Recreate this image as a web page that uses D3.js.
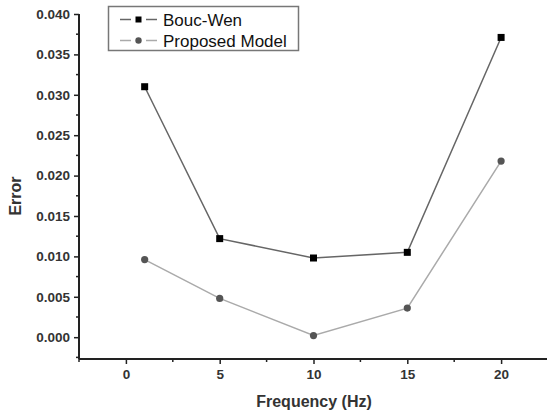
<!DOCTYPE html>
<html>
<head>
<meta charset="utf-8">
<script src="https://cdn.jsdelivr.net/npm/d3@7"></script>
<style>
  body { margin: 0; background: #fff; }
  text { font-family: "Liberation Sans", Arial, sans-serif; }
</style>
</head>
<body>
<div id="chart"></div>
<script>
// data
var freq = [1, 5, 10, 15, 20];
var boucWen = [0.0310, 0.0122, 0.0098, 0.0105, 0.0371];
var proposed = [0.0096, 0.0048, 0.0002, 0.0036, 0.0218];
var xTicks = [0, 5, 10, 15, 20];
var yTicks = [0.000, 0.005, 0.010, 0.015, 0.020, 0.025, 0.030, 0.035, 0.040];
var seriesNames = ["Bouc-Wen", "Proposed Model"];

var width = 547, height = 414;
// plot edges (window.top is reserved, so use other names)
var plotLeft = 79, plotRight = 548, plotTop = 14, plotBottom = 359;

var svg = d3.select("#chart").append("svg")
    .attr("width", width)
    .attr("height", height);

var x = d3.scaleLinear().domain([-2.5, 22.5]).range([plotLeft, plotRight]);
var y = d3.scaleLinear().domain([-0.0027, 0.040]).range([plotBottom, plotTop]);

// minor ticks
var xMinor = d3.range(-2.5, 22.6, 2.5).filter(function(d) { return xTicks.indexOf(d) < 0; });
var yMinor = d3.range(-0.0025, 0.0401, 0.0025).filter(function(d) {
    return !yTicks.some(function(t) { return Math.abs(t - d) < 1e-6; });
});

var axisColor = "#222";

// y axis
var yAxis = svg.append("g")
    .attr("transform", "translate(" + plotLeft + ",0)")
    .call(d3.axisLeft(y).tickValues(yTicks).tickFormat(d3.format(".3f")).tickSize(5).tickPadding(4));
yAxis.select(".domain").attr("d", "M0," + y(0.040) + "V" + plotBottom).attr("stroke", axisColor).attr("stroke-width", 2);
yAxis.selectAll(".tick line").attr("stroke", axisColor).attr("stroke-width", 1.5);
yAxis.selectAll(".tick text")
    .style("font-size", "13.5px").style("font-weight", "bold").attr("fill", "#333");
yAxis.selectAll(".minor").data(yMinor).enter().append("line")
    .attr("class", "minor")
    .attr("x1", -3).attr("x2", 0)
    .attr("y1", function(d) { return y(d); }).attr("y2", function(d) { return y(d); })
    .attr("stroke", axisColor).attr("stroke-width", 1.5);

// x axis
var xAxis = svg.append("g")
    .attr("transform", "translate(0," + plotBottom + ")")
    .call(d3.axisBottom(x).tickValues(xTicks).tickSize(5).tickPadding(5));
xAxis.select(".domain").attr("d", "M" + plotLeft + ",0H" + plotRight).attr("stroke", axisColor).attr("stroke-width", 2);
xAxis.selectAll(".tick line").attr("stroke", axisColor).attr("stroke-width", 1.5);
xAxis.selectAll(".tick text")
    .style("font-size", "13.5px").style("font-weight", "bold").attr("fill", "#333");
xAxis.selectAll(".minor").data(xMinor).enter().append("line")
    .attr("class", "minor")
    .attr("y1", 0).attr("y2", 3)
    .attr("x1", function(d) { return x(d); }).attr("x2", function(d) { return x(d); })
    .attr("stroke", axisColor).attr("stroke-width", 1.5);

// axis titles
svg.append("text")
    .attr("x", 314)
    .attr("y", 407)
    .attr("text-anchor", "middle")
    .style("font-size", "16px").style("font-weight", "bold").attr("fill", "#333")
    .text("Frequency (Hz)");

svg.append("text")
    .attr("transform", "translate(21,196)rotate(-90)")
    .attr("text-anchor", "middle")
    .style("font-size", "16px").style("font-weight", "bold").attr("fill", "#333")
    .text("Error");

// lines
var line = d3.line()
    .x(function(d, i) { return x(freq[i]); })
    .y(function(d) { return y(d); });

svg.append("path").datum(boucWen)
    .attr("d", line).attr("fill", "none")
    .attr("stroke", "#666").attr("stroke-width", 1.5);
svg.append("path").datum(proposed)
    .attr("d", line).attr("fill", "none")
    .attr("stroke", "#aaa").attr("stroke-width", 1.5);

// markers
svg.selectAll(".sq").data(boucWen).enter().append("rect")
    .attr("class", "sq")
    .attr("x", function(d, i) { return x(freq[i]) - 3.5; })
    .attr("y", function(d) { return y(d) - 3.5; })
    .attr("width", 7).attr("height", 7)
    .attr("fill", "#000");
svg.selectAll(".dot").data(proposed).enter().append("circle")
    .attr("class", "dot")
    .attr("cx", function(d, i) { return x(freq[i]); })
    .attr("cy", function(d) { return y(d); })
    .attr("r", 3.6)
    .attr("fill", "#555");

// legend
var legend = svg.append("g");
legend.append("rect")
    .attr("x", 108.5).attr("y", 6.5)
    .attr("width", 190).attr("height", 44)
    .attr("fill", "#fff").attr("stroke", "#777").attr("stroke-width", 1.5);

var legendRows = legend.selectAll(".row").data(seriesNames).enter().append("g")
    .attr("class", "row")
    .attr("transform", function(d, i) { return "translate(0," + (19.5 + i * 21) + ")"; });
legendRows.append("line")
    .attr("x1", 120).attr("x2", 131).attr("y1", 0).attr("y2", 0)
    .attr("stroke", function(d, i) { return i === 0 ? "#666" : "#aaa"; })
    .attr("stroke-width", 1.5);
legendRows.append("line")
    .attr("x1", 146).attr("x2", 157).attr("y1", 0).attr("y2", 0)
    .attr("stroke", function(d, i) { return i === 0 ? "#666" : "#aaa"; })
    .attr("stroke-width", 1.5);
legendRows.each(function(d, i) {
    var g = d3.select(this);
    if (i === 0) {
        g.append("rect").attr("x", 135.5).attr("y", -3).attr("width", 6).attr("height", 6).attr("fill", "#000");
    } else {
        g.append("circle").attr("cx", 138.5).attr("cy", 0).attr("r", 3.2).attr("fill", "#555");
    }
});
legendRows.append("text")
    .attr("x", 163).attr("y", 6)
    .style("font-size", "17px").attr("fill", "#111")
    .text(function(d) { return d; });
</script>
</body>
</html>
